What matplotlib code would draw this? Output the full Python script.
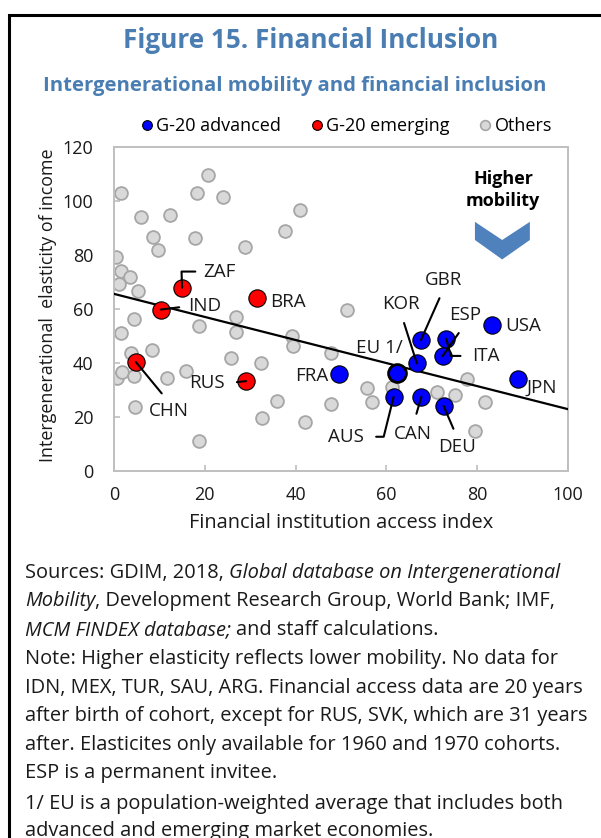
import matplotlib
matplotlib.use("Agg")
import matplotlib.pyplot as plt
from matplotlib.lines import Line2D
from matplotlib.patches import Rectangle, Polygon
import numpy as np

plt.rcParams['font.family'] = ['Open Sans', 'DejaVu Sans']

# ---------------- data ----------------
others_x = [1.5, 20.6, 18.2, 24.1, 5.9, 12.3, 40.9, 37.6, 8.5, 17.9, 9.8, 28.8, 0.4, 1.5, 3.5,
            1.1, 5.2, 4.4, 1.5, 18.7, 26.8, 26.8, 39.2, 39.4, 47.9, 3.7, 8.3, 25.7, 32.4, 15.9,
            0.7, 1.8, 4.3, 11.6, 4.6, 35.9, 32.7, 42.0, 47.9, 18.7, 51.3, 77.8, 55.7, 56.8,
            61.2, 71.2, 75.0, 81.7, 79.5]
others_y = [103.1, 109.6, 103.1, 101.6, 94.2, 94.8, 96.7, 89.0, 86.8, 86.2, 81.9, 82.8, 79.1,
            74.2, 71.7, 69.3, 66.8, 56.2, 51.2, 53.8, 57.1, 51.6, 50.0, 46.3, 43.6, 43.6, 44.8,
            41.7, 40.1, 37.2, 34.6, 36.5, 35.2, 34.6, 23.8, 26.0, 19.8, 18.3, 24.8, 11.1, 59.6,
            34.1, 30.6, 25.7, 31.0, 29.4, 28.1, 25.7, 14.8]

emerging_names = ["ZAF", "IND", "BRA", "CHN", "RUS"]
emerging_x = [15.0, 10.3, 31.5, 4.8, 29.1]
emerging_y = [67.9, 59.8, 64.0, 40.4, 33.3]

advanced_names = ["FRA", "GBR", "ITA", "ESP", "USA", "KOR", "JPN", "AUS", "CAN", "DEU"]
advanced_x = [49.6, 67.6, 73.2, 72.4, 83.2, 66.7, 89.0, 61.6, 67.7, 72.6]
advanced_y = [36.0, 48.5, 48.9, 42.6, 54.1, 39.9, 34.1, 27.5, 27.5, 24.1]

eu_name = "EU 1/"
eu_x = [62.3]
eu_y = [36.4]

trend_intercept = 65.6
trend_slope = -0.427

x_ticks = [0, 20, 40, 60, 80, 100]
y_ticks = [0, 20, 40, 60, 80, 100, 120]

# ---------------- figure ----------------
W, H = 601, 838
fig = plt.figure(figsize=(W / 100, H / 100), dpi=100)
fig.patch.set_facecolor("white")

def fx(px):
    return px / W

def fy(py):
    return 1 - py / H

# outer frame (right and bottom edges fall outside the picture)
fig.add_artist(Rectangle((fx(9), fy(860)), fx(620), (860 - 15) / H, transform=fig.transFigure,
                         fill=False, lw=2.2, ec="black", clip_on=False))

title_col = "#4A7EB3"
txt_col = "#1a1a1a"
fig.text(fx(311), fy(40), "Figure 15. Financial Inclusion", ha="center", va="center",
         fontsize=18.8, fontweight="bold", color=title_col)
fig.text(fx(295), fy(86), "Intergenerational mobility and financial inclusion", ha="center",
         va="center", fontsize=14.6, fontweight="bold", color=title_col)

ax = fig.add_axes([fx(114), fy(471), fx(568) - fx(114), (471 - 147) / H])
ax.set_xlim(0, 100)
ax.set_ylim(0, 120)
ax.set_xticks(x_ticks)
ax.set_yticks(y_ticks)
for s in ax.spines.values():
    s.set_color("#BFBFBF")
    s.set_linewidth(1.4)
ax.tick_params(direction="in", length=4, width=1.2, color="#BFBFBF", labelsize=13,
               labelcolor=txt_col)
ax.tick_params(axis="y", pad=15)
ax.tick_params(axis="x", pad=11)

grey_fc, grey_ec = "#D9D9D9", "#A6A6A6"
ax.scatter(others_x, others_y, s=85, c=grey_fc, edgecolors=grey_ec, linewidths=1.3, zorder=2)

xs = np.array([0, 100])
ax.plot(xs, trend_intercept + trend_slope * xs, color="black", lw=1.6, zorder=3)

ax.scatter(emerging_x, emerging_y, s=155, c="#FF0000", edgecolors="black", linewidths=0.8, zorder=4)
ax.scatter(advanced_x, advanced_y, s=155, c="#0000FF", edgecolors="black", linewidths=0.8, zorder=4)
ax.scatter(eu_x, eu_y, s=165, c="#0000FF", edgecolors="black", linewidths=2.0, zorder=4)

# ---------------- labels ----------------
lab_fs = 13.5
label_style = {
    "ZAF": (15.5, 11.6, "left", "center", ((0, 0.5), 4, "angle,angleA=0,angleB=92,rad=0")),
    "IND": (19.7, 2.4, "left", "center", ((0, 0.5), 4.5, "arc3")),
    "BRA": (9.6, -2.4, "left", "center", None),
    "CHN": (23.5, -35.0, "center", "center", ((0.5, 1), 5, "arc3")),
    "RUS": (-15.1, -1.7, "right", "center", ((1, 0.5), 6.5, "arc3")),
    "FRA": (-7.6, -1.9, "right", "center", None),
    "GBR": (16.3, 43.2, "center", "center", ((0.5, 0), 5, "arc3")),
    "ITA": (18.7, -12.2, "left", "center", ((0, 0.5), 6.5, "angle,angleA=0,angleB=105,rad=0")),
    "ESP": (16.1, 29.5, "center", "center", ((0.5, 0), 5.5, "arc3")),
    "USA": (9.4, -0.5, "left", "center", None),
    "KOR": (-11.5, 42.7, "center", "center", ((0.5, 0), 5.5, "arc3")),
    "JPN": (6.3, -6.7, "left", "center", None),
    "AUS": (-21.6, -28.8, "right", "center", ((1, 0.5), 7, "angle,angleA=0,angleB=76,rad=0")),
    "CAN": (-5.8, -26.5, "center", "center", ((0.5, 1), 6, "arc3")),
    "DEU": (9.9, -29.5, "center", "center", ((0.5, 1), 5, "arc3")),
    "EU 1/": (-12.7, 17.6, "center", "center", None),
}

def add_label(name, x, y):
    dx, dy, ha, va, leader = label_style[name]
    kw = {}
    if leader is not None:
        relpos, shrinkA, cs = leader
        kw["arrowprops"] = dict(arrowstyle="-", color="black", lw=1.5, relpos=relpos,
                                shrinkA=shrinkA, shrinkB=0, connectionstyle=cs)
    ax.annotate(name, xy=(x, y), xytext=(dx, dy), textcoords="offset points", ha=ha, va=va,
                fontsize=lab_fs, color=txt_col, zorder=6, **kw)

for n, x, y in zip(emerging_names, emerging_x, emerging_y):
    add_label(n, x, y)
for n, x, y in zip(advanced_names, advanced_x, advanced_y):
    add_label(n, x, y)
add_label(eu_name, eu_x[0], eu_y[0])

# Higher mobility annotation
ax.text(0.857, 0.866, "Higher\nmobility", transform=ax.transAxes, ha="center", va="center",
        fontsize=13, fontweight="bold", linespacing=1.28, color="black")
chev = [(0.795, 0.769), (0.855, 0.713), (0.916, 0.769), (0.916, 0.713), (0.855, 0.653),
        (0.795, 0.713)]
ax.add_patch(Polygon(chev, closed=True, transform=ax.transAxes, fc="#4F81BD", ec="none"))

# axis titles
fig.text(fx(48), fy(305), "Intergenerational  elasticity of income", rotation=90,
         ha="center", va="center", fontsize=12.9, color=txt_col)
fig.text(fx(341), fy(523), "Financial institution access index", ha="center", va="center",
         fontsize=14.4, color=txt_col)

# legend
handles = [
    Line2D([], [], ls="none", marker="o", ms=7, mfc="#0000FF", mec="black", mew=0.8),
    Line2D([], [], ls="none", marker="o", ms=7, mfc="#FF0000", mec="black", mew=0.8),
    Line2D([], [], ls="none", marker="o", ms=7, mfc=grey_fc, mec=grey_ec, mew=1.2),
]
fig.legend(handles, ["G-20 advanced", "G-20 emerging", "Others"], loc="center",
           bbox_to_anchor=(fx(345), fy(126)), ncol=3, frameon=False, fontsize=13,
           handletextpad=0.05, columnspacing=1.45, handlelength=1.0)

# notes with italic segments
note_lines = [
    [("Sources: GDIM, 2018,", "normal"), ("Global database on Intergenerational", "italic")],
    [("Mobility", "italic"), (", Development Research Group, World Bank; IMF,", "normal")],
    [("MCM FINDEX database;", "italic"), ("and staff calculations.", "normal")],
    [("Note: Higher elasticity reflects lower mobility. No data for", "normal")],
    [("IDN, MEX, TUR, SAU, ARG. Financial access data are 20 years", "normal")],
    [("after birth of cohort, except for RUS, SVK, which are 31 years", "normal")],
    [("after. Elasticites only available for 1960 and 1970 cohorts.", "normal")],
    [("ESP is a permanent invitee.", "normal")],
    [("1/ EU is a population-weighted average that includes both", "normal")],
    [("advanced and emerging market economies.", "normal")],
]
note_y = [573, 601, 630, 659, 688, 716, 745, 773, 804, 831]
note_fs = 14.4
space_pt = 3.8
for segs, py in zip(note_lines, note_y):
    prev = None
    for txt, style in segs:
        if prev is None:
            prev = fig.text(fx(25), fy(py), txt, ha="left", va="center", fontsize=note_fs,
                            style=style, color=txt_col)
        else:
            gap = 0 if txt.startswith(",") else space_pt
            prev = ax.annotate(txt, xy=(1, 0.5), xycoords=prev, xytext=(gap, 0),
                               textcoords="offset points", ha="left", va="center",
                               fontsize=note_fs, style=style, color=txt_col,
                               annotation_clip=False)

fig.savefig("out.png", dpi=100)
